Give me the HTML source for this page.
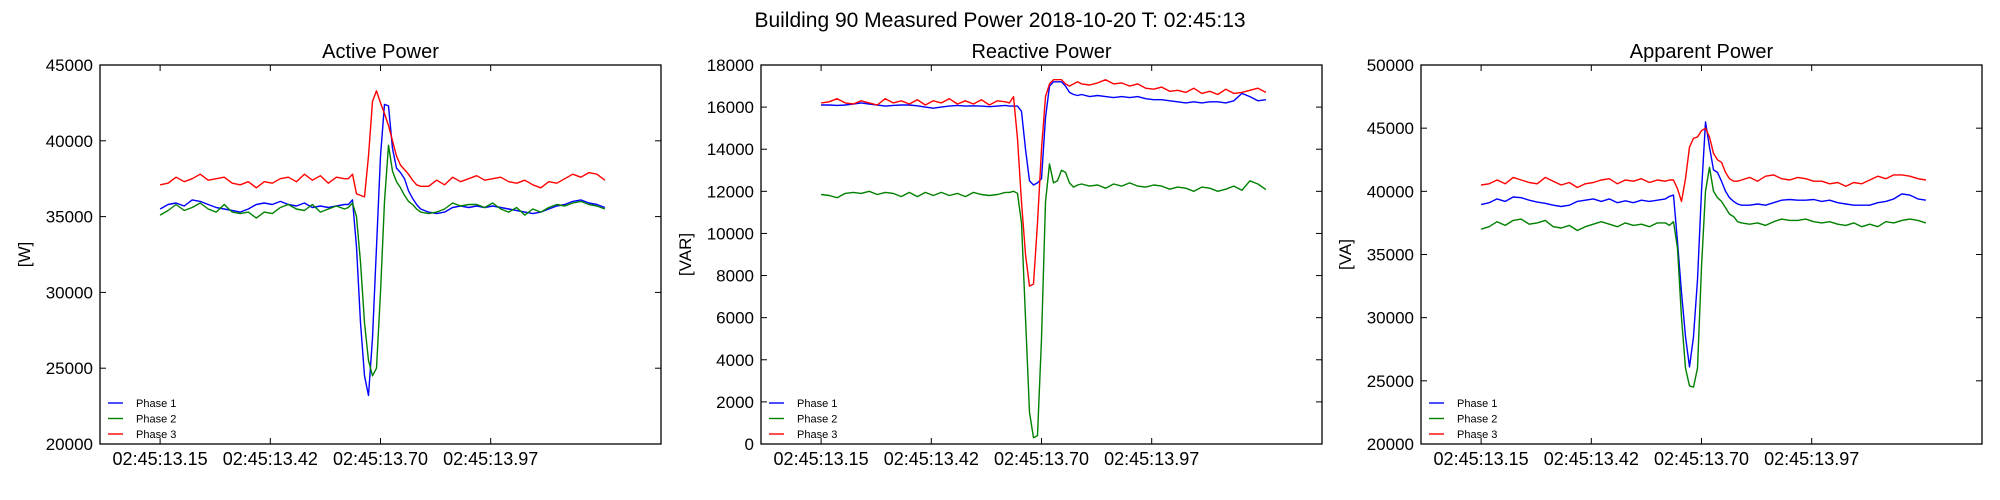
<!DOCTYPE html>
<html><head><meta charset="utf-8"><style>
html,body{margin:0;padding:0;background:#fff;}
svg{display:block;font-family:"Liberation Sans","DejaVu Sans",sans-serif;}
</style></head><body>
<svg id="fig" width="2000" height="500" viewBox="0 0 2000 500">
<text x="1000" y="27" text-anchor="middle" font-size="21">Building 90 Measured Power 2018-10-20 T: 02:45:13</text>
</svg>
<script>
const times = [13.15,13.17,13.19,13.21,13.23,13.25,13.27,13.29,13.31,13.33,13.35,13.37,13.39,13.41,13.43,13.45,13.47,13.49,13.51,13.53,13.55,13.57,13.59,13.61,
13.62,13.63,13.64,13.65,13.66,13.67,13.68,13.69,13.70,13.71,13.72,13.73,13.74,13.75,13.76,13.77,13.78,13.79,13.80,
13.82,13.84,13.86,13.88,13.90,13.92,13.94,13.96,13.98,14.00,14.02,14.04,14.06,14.08,14.10,14.12,14.14,14.16,14.18,14.20,14.22,14.24,14.26];
const xTickValues = [13.15,13.425,13.70,13.975];
const xTickLabels = ["02:45:13.15","02:45:13.42","02:45:13.70","02:45:13.97"];
const seriesNames = ["Phase 1","Phase 2","Phase 3"];

const activeP1 = [35500,35800,35900,35700,36100,36000,35800,35600,35500,35400,35300,35500,35800,35900,35800,36000,35800,35700,35900,35600,35700,35600,35700,35800,
35800,36100,33000,28000,24500,23200,27000,33000,39000,42400,42300,39500,38200,37900,37500,36700,36200,35800,35500,
35300,35200,35300,35600,35700,35600,35700,35600,35700,35600,35500,35400,35300,35200,35300,35500,35700,35800,36000,36100,35900,35800,35600];
const activeP2 = [35100,35400,35800,35400,35600,35900,35500,35300,35800,35300,35200,35300,34900,35300,35200,35600,35800,35500,35400,35800,35300,35500,35700,35500,
35600,35900,35000,32000,28000,25500,24500,25000,30000,36000,39700,38000,37300,36900,36400,36000,35800,35500,35300,
35200,35300,35500,35900,35700,35800,35800,35600,35900,35500,35300,35600,35100,35500,35300,35600,35800,35700,35900,36000,35800,35700,35500];
const activeP3 = [37100,37200,37600,37300,37500,37800,37400,37500,37600,37200,37100,37300,36900,37300,37200,37500,37600,37300,37800,37400,37700,37200,37600,37500,
37500,37800,36500,36400,36300,39000,42600,43300,42500,41800,41000,40000,39000,38400,38100,37800,37400,37100,37000,
37000,37400,37100,37600,37300,37500,37700,37400,37500,37600,37300,37200,37400,37100,36900,37300,37200,37500,37800,37600,37900,37800,37400];

const reactiveP1 = [16100,16100,16080,16100,16150,16200,16150,16100,16050,16080,16100,16100,16060,16000,15950,16000,16050,16080,16050,16060,16050,16020,16050,16080,
16050,16050,16050,15800,14000,12500,12300,12400,12600,15500,17000,17200,17200,17200,17000,16700,16600,16550,16600,
16500,16550,16500,16450,16500,16450,16500,16400,16350,16350,16300,16250,16200,16250,16200,16250,16250,16200,16300,16650,16500,16300,16350];
const reactiveP2 = [11850,11800,11700,11900,11950,11900,12000,11850,11950,11900,11750,11950,11750,11950,11800,11950,11800,11900,11750,11950,11850,11800,11850,11950,
11950,12000,11900,10500,6000,1500,300,400,5000,11500,13300,12400,12500,13000,12900,12400,12200,12300,12350,
12250,12300,12150,12350,12250,12400,12250,12200,12300,12250,12100,12200,12150,12000,12200,12150,12000,12100,12250,12050,12500,12350,12080];
const reactiveP3 = [16200,16250,16400,16200,16150,16300,16200,16100,16400,16200,16300,16150,16350,16100,16300,16200,16400,16150,16300,16150,16350,16100,16300,16250,
16200,16500,14500,11500,9000,7500,7600,10500,14000,16500,17100,17300,17300,17300,17100,17000,17100,17200,17100,
17050,17150,17300,17100,17150,17000,17100,16900,16850,16950,16750,16800,16700,16900,16650,16750,16600,16850,16650,16700,16800,16900,16700];

const apparentP1 = [38950,39100,39400,39200,39550,39500,39300,39150,39050,38900,38800,38900,39200,39300,39400,39200,39400,39100,39250,39100,39300,39200,39300,39400,
39600,39700,36000,32000,28500,26100,28500,33000,40000,45500,43500,41700,41500,40800,40000,39500,39200,39000,38900,
38900,39000,38900,39100,39300,39350,39300,39300,39350,39200,39300,39100,39000,38900,38900,38900,39100,39200,39400,39800,39700,39400,39300];
const apparentP2 = [37000,37200,37600,37300,37700,37800,37400,37500,37700,37200,37100,37300,36900,37200,37400,37600,37400,37200,37500,37300,37400,37200,37500,37500,
37300,37600,35500,30000,26000,24600,24500,26000,34000,40000,41900,40000,39500,39200,38700,38200,38000,37600,37500,
37400,37500,37300,37600,37800,37700,37700,37800,37600,37500,37600,37400,37300,37500,37200,37400,37200,37600,37500,37700,37800,37700,37500];
const apparentP3 = [40500,40600,40900,40600,41100,40900,40700,40600,41100,40800,40500,40700,40300,40600,40700,40900,41000,40600,40900,40800,41000,40700,40900,40800,
40900,40900,40200,39200,41000,43500,44200,44300,44800,45000,44300,43000,42500,42300,41500,41000,40800,40800,40900,
41100,40800,41200,41300,41000,40900,41100,41000,40800,40800,40600,40700,40400,40700,40600,40900,41200,41000,41300,41300,41200,41000,40900];

const activeTicks = [20000,25000,30000,35000,40000,45000];
const reactiveTicks = [0,2000,4000,6000,8000,10000,12000,14000,16000,18000];
const apparentTicks = [20000,25000,30000,35000,40000,45000,50000];

const colors = ["#0000ff","#008000","#ff0000"];
const NS = "http://www.w3.org/2000/svg";
const svg = document.getElementById('fig');
function mk(tag, attrs, parent){const e=document.createElementNS(NS,tag);for(const k in attrs)e.setAttribute(k,attrs[k]);(parent||svg).appendChild(e);return e;}

const panels = [
 {key:'active', title:'Active Power', unit:'[W]', left:100, yMin:20000, yMax:45000, ticks:activeTicks, data:[activeP1,activeP2,activeP3]},
 {key:'reactive', title:'Reactive Power', unit:'[VAR]', left:761, yMin:0, yMax:18000, ticks:reactiveTicks, data:[reactiveP1,reactiveP2,reactiveP3]},
 {key:'apparent', title:'Apparent Power', unit:'[VA]', left:1421, yMin:20000, yMax:50000, ticks:apparentTicks, data:[apparentP1,apparentP2,apparentP3]}
];
const TOP=65, BOT=444, W=561, xMin=13.0, xMax=14.4;

panels.forEach(p=>{
  const g = mk('g',{});
  
  
  const xs = v => p.left + (v-xMin)/(xMax-xMin)*W;
  const ys = v => BOT - (v-p.yMin)/(p.yMax-p.yMin)*(BOT-TOP);
  const t = mk('text',{x:p.left+W/2,y:58,'text-anchor':'middle','font-size':'20'},g);
  t.textContent=p.title;
  
  
  const yl = mk('text',{x:0,y:0,'text-anchor':'middle','font-size':'17',transform:`translate(${p.left-70},${(TOP+BOT)/2}) rotate(-90)`},g);
  yl.textContent=p.unit;
  
  
  p.data.forEach((arr,si)=>{
    const d = arr.map((v,i)=>(i?'L':'M')+xs(times[i]).toFixed(1)+','+ys(v).toFixed(1)).join(' ');
    const path = mk('path',{d:d,fill:'none',stroke:colors[si],'stroke-width':'1.4','stroke-linejoin':'round'},g);
    
    
  });
  const fr = mk('rect',{x:p.left,y:TOP,width:W,height:BOT-TOP,fill:'none',stroke:'#000','stroke-width':'1.3'},g);
  
  
  p.ticks.forEach(v=>{
    const y=ys(v);
    mk('line',{x1:p.left,y1:y,x2:p.left+6,y2:y,stroke:'#000','stroke-width':'1'},g);
    mk('line',{x1:p.left+W,y1:y,x2:p.left+W-6,y2:y,stroke:'#000','stroke-width':'1'},g);
    const tl = mk('text',{x:p.left-7,y:y+6,'text-anchor':'end','font-size':'17'},g);
    tl.textContent=String(v);
    
    
  });
  xTickValues.forEach((v,i)=>{
    const x=xs(v);
    mk('line',{x1:x,y1:BOT,x2:x,y2:BOT-6,stroke:'#000','stroke-width':'1'},g);
    mk('line',{x1:x,y1:TOP,x2:x,y2:TOP+6,stroke:'#000','stroke-width':'1'},g);
    const tl = mk('text',{x:x,y:BOT+21,'text-anchor':'middle','font-size':'18'},g);
    tl.textContent=xTickLabels[i];
    
    
  });
  const lg = mk('g',{},g);
  
  
  seriesNames.forEach((n,i)=>{
    const y = 403 + i*15.5;
    const e = mk('g',{},lg);
    
    
    mk('line',{x1:p.left+8,y1:y,x2:p.left+23,y2:y,stroke:colors[i],'stroke-width':'1.4'},e);
    const tx = mk('text',{x:p.left+36,y:y+4,'font-size':'11'},e);
    tx.textContent=n;
  });
});
</script>
</body></html>
